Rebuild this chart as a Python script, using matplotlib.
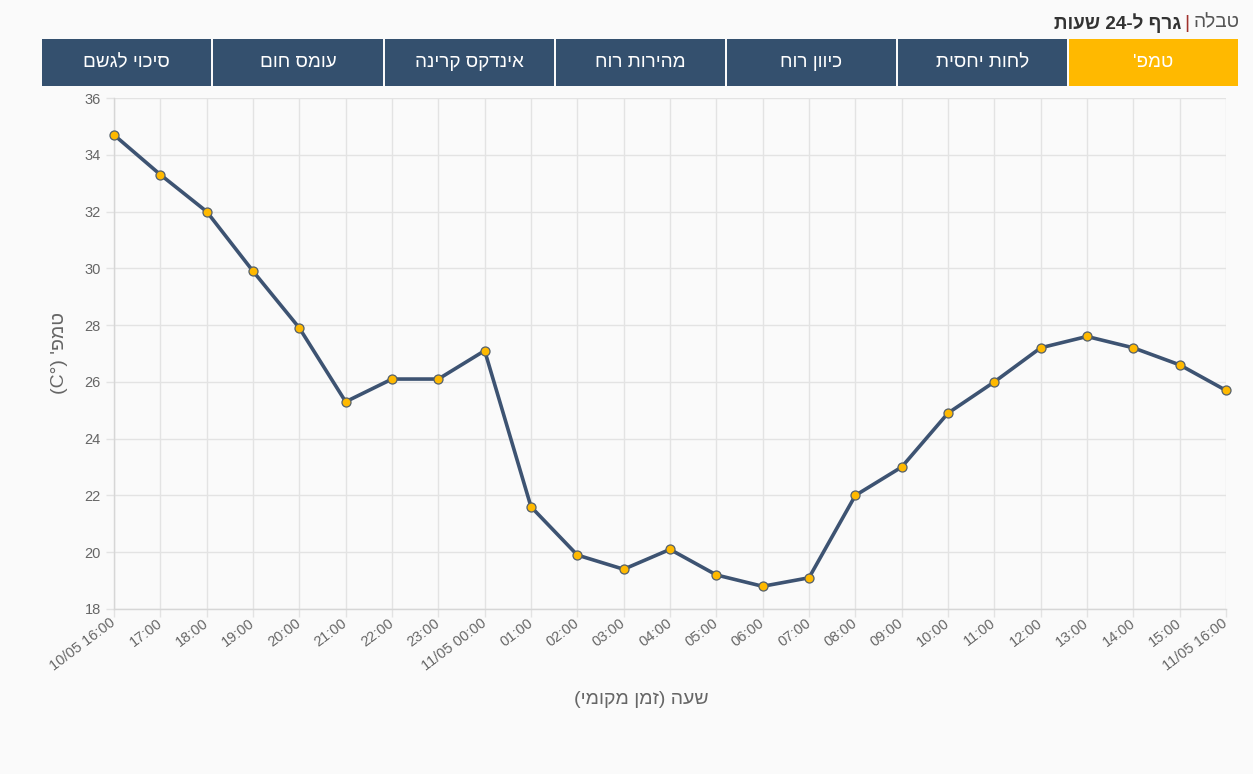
import re
import matplotlib
matplotlib.use("Agg")
import matplotlib.pyplot as plt
from matplotlib.patches import Rectangle

plt.rcParams['font.family'] = ['Liberation Sans', 'DejaVu Sans']

# hourly temperature, 10/05 16:00 -> 11/05 16:00
hours = ["10/05 16:00", "17:00", "18:00", "19:00", "20:00", "21:00", "22:00",
         "23:00", "11/05 00:00", "01:00", "02:00", "03:00", "04:00", "05:00",
         "06:00", "07:00", "08:00", "09:00", "10:00", "11:00", "12:00",
         "13:00", "14:00", "15:00", "11/05 16:00"]
temps = [34.7, 33.3, 32.0, 29.9, 27.9, 25.3, 26.1, 26.1, 27.1, 21.6, 19.9,
         19.4, 20.1, 19.2, 18.8, 19.1, 22.0, 23.0, 24.9, 26.0, 27.2, 27.6,
         27.2, 26.6, 25.7]
y_ticks = list(range(18, 37, 2))

# tabs, right to left as on the page
tabs = ["טמפ'", "לחות יחסית", "כיוון רוח", "מהירות רוח", "אינדקס קרינה",
        "עומס חום", "סיכוי לגשם"]
active_tab = 0


def heb(s):
    # matplotlib has no bidi: flip to visual order, keep latin/digit runs
    r = s[::-1]
    r = re.sub(r"[A-Za-z0-9°]+", lambda m: m.group(0)[::-1], r)
    return r.translate(str.maketrans("()", ")("))


W, H = 1253, 774
bg = "#fafafa"
navy = "#34506e"
gold = "#ffb900"
line_col = "#3d5372"
grid_col = "#e3e3e3"
txt = "#666666"

fig = plt.figure(figsize=(W / 100, H / 100), dpi=100, facecolor=bg)

# header
fig.text(1240 / W, 1 - 23 / H, heb("טבלה"), ha="right", va="center",
         fontsize=13.8, color="#555555")
fig.text(1187 / W, 1 - 23 / H, "|", ha="center", va="center",
         fontsize=14, color="#a0322d", fontweight="light")
fig.text(1181 / W, 1 - 23 / H, heb("גרף ל-24 שעות"), ha="right", va="center",
         fontsize=13.6, color="#333333", fontweight="bold")

# tab bar
tab_w, gap = 169.1, 2.0
x_right = 1238
for i, name in enumerate(tabs):
    x1 = x_right - i * (tab_w + gap)
    x0 = x1 - tab_w
    col = gold if i == active_tab else navy
    fig.patches.append(Rectangle((x0 / W, 1 - 86 / H), tab_w / W, 47 / H,
                                 transform=fig.transFigure, facecolor=col,
                                 edgecolor="none"))
    fig.text((x0 + x1) / 2 / W, 1 - 62.5 / H, heb(name), ha="center",
             va="center", fontsize=13.6, color="white")

ax = fig.add_axes([114 / W, 1 - 609 / H, (1226 - 114) / W, (609 - 98) / H])
ax.set_facecolor(bg)
x = list(range(len(hours)))
ax.plot(x, temps, color=line_col, lw=2.6, zorder=3, clip_on=False,
        marker="o", markersize=6.5, markerfacecolor=gold,
        markeredgecolor="#55606a", markeredgewidth=0.9)

ax.set_xlim(0, len(hours) - 1)
ax.set_ylim(18, 36)
ax.set_yticks(y_ticks)
ax.set_xticks(x)
ax.set_xticklabels(hours, rotation=37, ha="right", va="center",
                   rotation_mode="anchor")
ax.grid(True, color=grid_col, lw=1)
ax.set_axisbelow(True)
for side in ["top", "right"]:
    ax.spines[side].set_visible(False)
for side in ["left", "bottom"]:
    ax.spines[side].set_color("#d6d6d6")
    ax.spines[side].set_linewidth(1)
ax.tick_params(axis="both", colors=grid_col, length=6, width=1,
               labelcolor=txt, labelsize=10.5)
ax.tick_params(axis="x", pad=3)
ax.tick_params(axis="y", pad=3.6)

ax.set_ylabel(heb("טמפ' (C°)"), fontsize=14, color=txt, labelpad=12)
fig.text(641 / W, 1 - 700 / H, heb("שעה (זמן מקומי)"), ha="center",
         va="center", fontsize=14, color=txt)

fig.savefig("out.png", dpi=100, facecolor=bg)
